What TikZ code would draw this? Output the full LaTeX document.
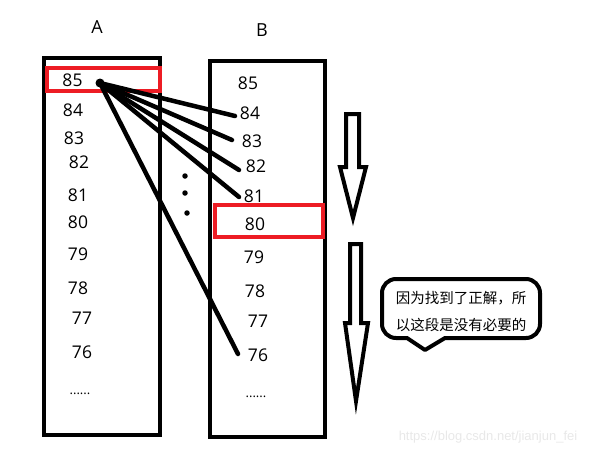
\documentclass[tikz,border=0pt]{standalone}
\usepackage{fontspec}
\setmainfont{Open Sans}
\newfontfamily\cjk{Noto Sans CJK SC}
\newfontfamily\arialfont{Liberation Sans}
\begin{document}
\begin{tikzpicture}[x=1pt,y=-1pt,
  num/.style={font=\fontsize{17.5}{19}\selectfont, inner sep=0},
  hdr/.style={font=\fontsize{18}{20}\selectfont, inner sep=0},
  dotsfont/.style={font=\fontsize{13}{15}\selectfont, inner sep=0, anchor=base},
  boxframe/.style={draw, line width=4.5pt},
  redbox/.style={draw={rgb,255:red,237;green,28;blue,36}, line width=3.5pt},
  conn/.style={line width=4.5pt, line cap=round},
  hollow/.style={draw, line width=4pt, line join=miter, fill=white},
  bigdot/.style={circle, fill, inner sep=0, minimum size=5.5pt}]
\useasboundingbox (0,0) rectangle (605,456);
% frames
\draw[boxframe] (44,58) rectangle (160,435);
\draw[boxframe] (210,61) rectangle (325,437);
% headers
\node[hdr] (ha) at (97,27) {A};
\node[hdr] (hb) at (262,30) {B};
% column A
\node[num] (a85) at (72.5,80.5) {85};
\node[num] (a84) at (73,110) {84};
\node[num] (a83) at (74,138) {83};
\node[num] (a82) at (79,162) {82};
\node[num] (a81) at (78,195) {81};
\node[num] (a80) at (78,222) {80};
\node[num] (a79) at (78,254) {79};
\node[num] (a78) at (78,288) {78};
\node[num] (a77) at (82,318) {77};
\node[num] (a76) at (82,352) {76};
\node[dotsfont] (adots) at (80,394) {......};
% column B
\node[num] (b85) at (248,83) {85};
\node[num] (b84) at (250,113) {84};
\node[num] (b83) at (252,141) {83};
\node[num] (b82) at (256,166) {82};
\node[num] (b81) at (254,196) {81};
\node[num] (b80) at (255,224) {80};
\node[num] (b79) at (254,257) {79};
\node[num] (b78) at (255,291) {78};
\node[num] (b77) at (258,321) {77};
\node[num] (b76) at (258,355) {76};
\node[dotsfont] (bdots) at (256,397) {......};
% red boxes
\draw[redbox] (47,68) rectangle (160,91);
\draw[redbox] (215,205) rectangle (323,237);
% connectors
\node[circle, fill, inner sep=0, minimum size=9pt] (blob) at (100,83) {};
\coordinate (e84) at (235,116);
\coordinate (e83) at (232,140);
\coordinate (e82) at (239,170);
\coordinate (e81) at (239,197);
\coordinate (e76) at (238,354);
\draw[conn] (blob.center) -- (e84);
\draw[conn] (blob.center) -- (e83);
\draw[conn] (blob.center) -- (e82);
\draw[conn] (blob.center) -- (e81);
\draw[conn] (blob.center) -- (e76);
% vertical dots
\node[bigdot] (d1) at (185,176) {};
\node[bigdot] (d2) at (185,193) {};
\node[bigdot] (d3) at (187,213) {};
% hollow arrows
\draw[hollow] (346,114) -- (359,114) -- (359,167) -- (366,167) -- (353,218) -- (340,167) -- (346,167) -- cycle;
\draw[hollow] (350,244) -- (361,244) -- (361,323) -- (368,323) -- (356,401) -- (345,323) -- (350,323) -- cycle;
% callout
\draw[line width=4pt, line join=round] (425,350) -- (445,338) [rounded corners=14pt] -- (540,338) -- (540,279) -- (382,279) -- (382,338) [sharp corners] -- (407,338) -- cycle;
\node[font={\cjk\fontsize{14.5}{27}\selectfont}, align=left, inner sep=0] (note) at (461,311.5) {因为找到了正解，所\\以这段是没有必要的};
% watermark
\node[font={\arialfont\fontsize{13}{15}\selectfont}, text=black!9, inner sep=0] (wm) at (488,437) {https://blog.csdn.net/jianjun\_fei};
\end{tikzpicture}
\end{document}
